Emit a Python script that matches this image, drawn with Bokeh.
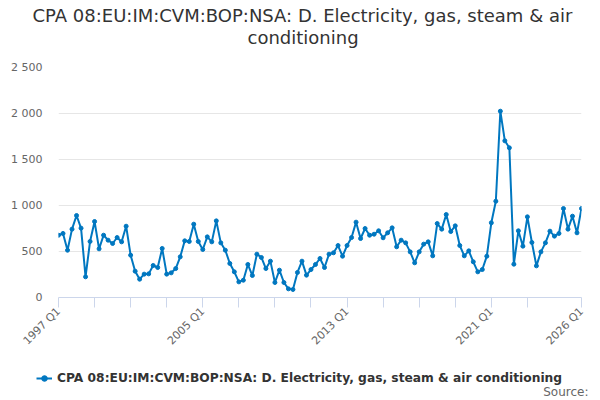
import math
from bokeh.plotting import figure
from bokeh.models import (Range1d, FixedTicker, Legend, LegendItem, Title, Label,
                          ColumnDataSource)
from bokeh.embed import file_html
from bokeh.resources import INLINE

title_line1 = "CPA 08:EU:IM:CVM:BOP:NSA: D. Electricity, gas, steam & air"
title_line2 = "conditioning"
series_name = "CPA 08:EU:IM:CVM:BOP:NSA: D. Electricity, gas, steam & air conditioning"
source_text = "Source:"

start_year = 1997  # first observation: 1997 Q1, quarterly
values = [
    677, 696, 514, 743, 891, 754, 225, 609, 826, 529,
    677, 623, 587, 652, 605, 775, 460, 286, 199, 254,
    257, 348, 326, 533, 254, 268, 315, 442, 616, 609,
    797, 609, 522, 659, 605, 833, 594, 514, 370, 279,
    170, 188, 359, 239, 471, 435, 315, 395, 163, 297,
    163, 94, 87, 272, 395, 243, 304, 359, 424, 326,
    471, 486, 565, 449, 565, 652, 819, 641, 750, 677,
    688, 725, 649, 703, 757, 551, 623, 594, 496, 377,
    496, 580, 605, 453, 804, 743, 902, 717, 779, 565,
    453, 507, 388, 279, 304, 449, 812, 1047, 2025, 1703,
    1627, 362, 725, 558, 877, 598, 344, 496, 594, 721,
    667, 696, 967, 743, 884, 703, 967,
]

x_ticks = [1997, 1999, 2001, 2003, 2005, 2007, 2009, 2011, 2013, 2015,
           2017, 2019, 2021, 2023, 2026]
x_tick_labels = {1997: "1997 Q1", 2005: "2005 Q1", 2013: "2013 Q1",
                 2021: "2021 Q1", 2026: "2026 Q1"}
y_ticks = [0, 500, 1000, 1500, 2000, 2500]
y_tick_labels = ["0", "500", "1 000", "1 500", "2 000", "2 500"]

xs = [start_year + i / 4 for i in range(len(values))]
src = ColumnDataSource(dict(x=xs, y=values))

FONT = "DejaVu Sans"
COLOR = "#0077c0"

p = figure(frame_width=523, frame_height=230, output_backend="svg",
           toolbar_location=None,
           x_range=Range1d(1997, 2026), y_range=Range1d(0, 2500),
           min_border_left=58, min_border_right=19, min_border_top=67,
           min_border_bottom=55)
p.outline_line_color = None
p.background_fill_color = "white"
p.border_fill_color = "white"

line = p.line("x", "y", source=src, line_color=COLOR, line_width=2)
pts = p.scatter("x", "y", source=src, size=4, fill_color=COLOR,
                line_color=COLOR)

# axes
xa = p.xaxis[0]
xa.ticker = FixedTicker(ticks=x_ticks, minor_ticks=[])
xa.major_label_overrides = {t: x_tick_labels.get(t, "") for t in x_ticks}
xa.axis_line_color = "#ccd6eb"
xa.major_tick_line_color = "#ccd6eb"
xa.major_tick_out = 10
xa.major_tick_in = 0
xa.minor_tick_line_color = None
xa.major_label_orientation = math.pi / 4
xa.major_label_text_font = FONT
xa.major_label_text_font_size = "11px"
xa.major_label_text_color = "#666666"
xa.major_label_standoff = 2

ya = p.yaxis[0]
ya.ticker = FixedTicker(ticks=y_ticks, minor_ticks=[])
ya.major_label_overrides = dict(zip(y_ticks, y_tick_labels))
ya.axis_line_color = None
ya.major_tick_line_color = None
ya.minor_tick_line_color = None
ya.major_tick_out = 0
ya.major_tick_in = 0
ya.major_label_standoff = 16
ya.major_label_text_font = FONT
ya.major_label_text_font_size = "11px"
ya.major_label_text_color = "#666666"

p.xgrid.grid_line_color = None
p.ygrid.grid_line_color = "#e6e6e6"
p.ygrid.ticker = FixedTicker(ticks=y_ticks)

# spacer between the frame and the title lines
p.add_layout(Title(text=" ", text_font_size="2px", standoff=13), "above")
t2 = Title(text=title_line2, align="left", offset=189, vertical_align="top",
           standoff=2, text_font=FONT, text_font_size="18px",
           text_font_style="normal", text_color="#333333")
t1 = Title(text=title_line1, align="left", offset=-26, vertical_align="bottom",
           standoff=0, text_font=FONT, text_font_size="18px",
           text_font_style="normal", text_color="#333333")
p.add_layout(t2, "above")
p.add_layout(t1, "above")

# legend strip below the chart (separate root so its frame spans the page)
lg = figure(width=600, height=48, output_backend="svg", toolbar_location=None,
            x_range=Range1d(0, 1), y_range=Range1d(0, 1),
            x_axis_type=None, y_axis_type=None,
            min_border_left=0, min_border_right=0, min_border_top=0,
            min_border_bottom=0)
lg.outline_line_color = None
lg.xgrid.visible = False
lg.ygrid.visible = False
# legend proxies share the series source; its points fall outside this strip's ranges
l_line = lg.line("x", "y", source=src, line_color=COLOR, line_width=2)
l_pts = lg.scatter("x", "y", source=src, size=4, fill_color=COLOR,
                   line_color=COLOR)
legend = Legend(items=[LegendItem(label=series_name, renderers=[l_line, l_pts])],
                location=(36, 18), orientation="horizontal",
                label_text_font=FONT, label_text_font_size="12.25px",
                label_text_font_style="bold", label_text_color="#333333",
                glyph_width=16, glyph_height=14, label_height=14,
                label_standoff=5, padding=0, margin=0,
                border_line_color=None, background_fill_alpha=0)
lg.add_layout(legend, "center")
lg.add_layout(Label(x=588, y=12, x_units="screen", y_units="screen",
                    text=source_text, text_align="right",
                    text_baseline="alphabetic", text_font=FONT,
                    text_font_size="12px", text_color="#666666"))

open("out.html", "w").write(file_html([p, lg], INLINE))
